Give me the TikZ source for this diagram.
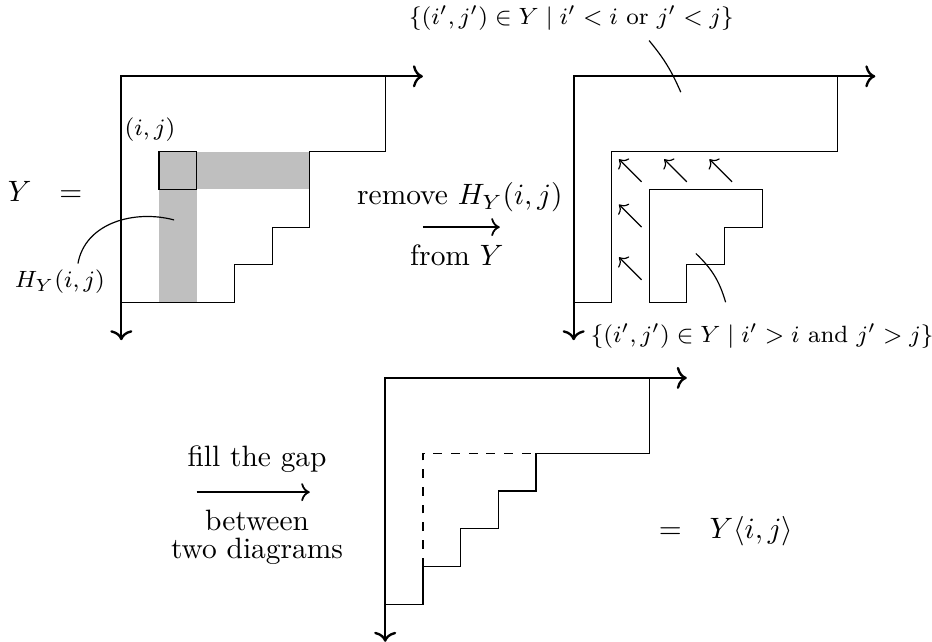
\documentclass[tikz,border=0pt]{standalone}
\usepackage{amsmath,amssymb}
\usetikzlibrary{arrows.meta}
\begin{document}
\begin{tikzpicture}[x=0.45cm,y=0.45cm,
    axis/.style={thick,{Computer Modern Rightarrow[length=3.4pt,width=7.5pt]}-{Computer Modern Rightarrow[length=3.4pt,width=7.5pt]}},
    cell/.style={thin},
    hookfill/.style={fill=lightgray},
    slide/.style={thin,->},
    move/.style={semithick,->}]
    \useasboundingbox (-3.218,2.024) rectangle (21.504,-14.979);
    % Y with the hook of (i,j)
    \fill[hookfill] (1,-2) rectangle (5,-3);
    \fill[hookfill] (1,-3) rectangle (2,-6);
    \draw[cell] (1,-2) rectangle (2,-3);
    \draw[cell] (0,-6)--(3,-6)--(3,-5)--(4,-5)--(4,-4)--(5,-4)--(5,-2)--(7,-2)--(7,0);
    \draw[axis] (0,-7)--(0,0)--(8,0);
    \node[anchor=base] (yeq) at (-2.02,-3.33) {$Y \ \ =$};
    \node[anchor=base] (ij) at (0.76,-1.56) {\footnotesize $(i,j)$};
    \node[anchor=base] (hooklbl) at (-1.63,-5.61) {\footnotesize $H_Y(i,j)$};
    \coordinate (hookpt) at (1.4,-3.81);
    \draw ([shift={(0.48,-0.1)}]hooklbl.north) to[out=80,in=165] (hookpt);
    \node[anchor=base] (rmtxt) at (8.98,-3.41) {remove $H_Y(i,j)$};
    \node[anchor=base] (fromtxt) at (8.9,-5.03) {from $Y$};
    \coordinate (rmA) at (8,-4);
    \coordinate (rmB) at (10.04,-4);
    \draw[move] (rmA)--(rmB);
    % after the removal
    \begin{scope}[shift={(12,0)}]
      \draw[cell] (0,-6)--(1,-6)--(1,-2)--(7,-2)--(7,0);
      \draw[cell] (2,-6)--(2,-3)--(5,-3)--(5,-4)--(4,-4)--(4,-5)--(3,-5)--(3,-6)--cycle;
      \foreach \x/\y in {1.8/-2.8,3/-2.8,4.2/-2.8,1.8/-4,1.8/-5.4}
        \draw[slide] (\x,\y)--++(-0.6,0.6);
      \draw[axis] (0,-7)--(0,0)--(8,0);
      \coordinate (outpt) at (2.84,-0.42);
      \coordinate (inpt) at (3.24,-4.7);
    \end{scope}
    \node[anchor=base] (setup) at (11.94,1.38) {\footnotesize $\{(i',j')\in Y \mid i'<i \text{ or } j'<j\}$};
    \node[anchor=base] (setlow) at (17.0,-7.05) {\footnotesize $\{(i',j')\in Y \mid i'>i \text{ and } j'>j\}$};
    \draw ([shift={(2.06,0)}]setup.south) to[bend left=8] (outpt);
    \draw ([shift={(-0.97,0.3)}]setlow.north) to[bend right=15] (inpt);
    % the gap filled
    \begin{scope}[shift={(7,-8)}]
      \draw[cell] (0,-6)--(1,-6)--(1,-5)--(2,-5)--(2,-4)--(3,-4)--(3,-3)--(4,-3)--(4,-2)--(7,-2)--(7,0);
      \draw[cell,dashed] (1,-5)--(1,-2)--(4,-2);
      \draw[axis] (0,-7)--(0,0)--(8,0);
    \end{scope}
    \node[anchor=base] (filltxt) at (3.6,-10.36) {fill the gap};
    \coordinate (fillA) at (2,-11.03);
    \coordinate (fillB) at (5,-11.03);
    \draw[move] (fillA)--(fillB);
    \node[anchor=base] (btw) at (3.6,-12.06) {between};
    \node[anchor=base] (twod) at (3.6,-12.78) {two diagrams};
    \node[anchor=base] (res) at (16.04,-12.27) {$= \ \ Y\langle i,j\rangle$};
\end{tikzpicture}
\end{document}
